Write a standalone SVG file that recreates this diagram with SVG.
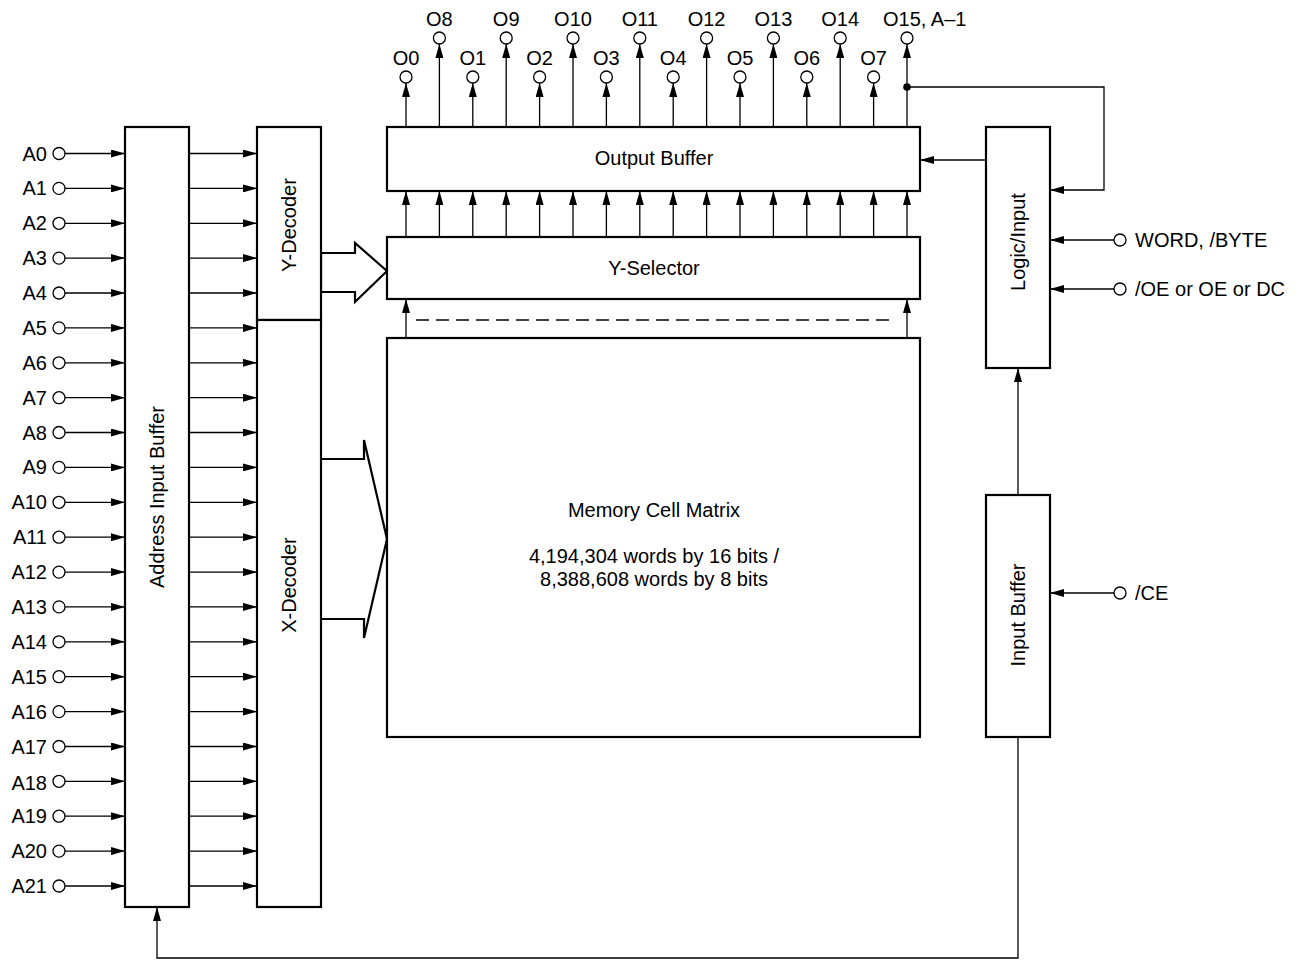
<svg xmlns="http://www.w3.org/2000/svg" width="1305" height="963" viewBox="0 0 1305 963">
<style>
.box{fill:#fff;stroke:#000;stroke-width:2.2}
.ln{fill:none;stroke:#000;stroke-width:1.3}
.ar{fill:none;stroke:#000;stroke-width:1.3;marker-end:url(#ah)}
.pin{fill:#fff;stroke:#000;stroke-width:1.3}
.t{font-family:"Liberation Sans",Arial,sans-serif;font-size:20px;fill:#000}
.m{text-anchor:middle}
.e{text-anchor:end}
.big{fill:#fff;stroke:#000;stroke-width:2.2;stroke-linejoin:miter}
</style>
<defs>
<marker id="ah" viewBox="0 0 14 8" refX="14" refY="4" markerWidth="14" markerHeight="8" orient="auto" markerUnits="userSpaceOnUse">
<path d="M0,0 L14,4 L0,8 z" fill="#000"/>
</marker>
</defs>
<rect width="1305" height="963" fill="#fff"/>

<g id="connectors">
<g id="addr-lines">
<line class="ar" x1="65" y1="153.5" x2="125" y2="153.5"/><line class="ar" x1="189" y1="153.5" x2="257" y2="153.5"/>
<line class="ar" x1="65" y1="188.4" x2="125" y2="188.4"/><line class="ar" x1="189" y1="188.4" x2="257" y2="188.4"/>
<line class="ar" x1="65" y1="223.3" x2="125" y2="223.3"/><line class="ar" x1="189" y1="223.3" x2="257" y2="223.3"/>
<line class="ar" x1="65" y1="258.1" x2="125" y2="258.1"/><line class="ar" x1="189" y1="258.1" x2="257" y2="258.1"/>
<line class="ar" x1="65" y1="293" x2="125" y2="293"/><line class="ar" x1="189" y1="293" x2="257" y2="293"/>
<line class="ar" x1="65" y1="327.9" x2="125" y2="327.9"/><line class="ar" x1="189" y1="327.9" x2="257" y2="327.9"/>
<line class="ar" x1="65" y1="362.8" x2="125" y2="362.8"/><line class="ar" x1="189" y1="362.8" x2="257" y2="362.8"/>
<line class="ar" x1="65" y1="397.7" x2="125" y2="397.7"/><line class="ar" x1="189" y1="397.7" x2="257" y2="397.7"/>
<line class="ar" x1="65" y1="432.5" x2="125" y2="432.5"/><line class="ar" x1="189" y1="432.5" x2="257" y2="432.5"/>
<line class="ar" x1="65" y1="467.4" x2="125" y2="467.4"/><line class="ar" x1="189" y1="467.4" x2="257" y2="467.4"/>
<line class="ar" x1="65" y1="502.3" x2="125" y2="502.3"/><line class="ar" x1="189" y1="502.3" x2="257" y2="502.3"/>
<line class="ar" x1="65" y1="537.2" x2="125" y2="537.2"/><line class="ar" x1="189" y1="537.2" x2="257" y2="537.2"/>
<line class="ar" x1="65" y1="572.1" x2="125" y2="572.1"/><line class="ar" x1="189" y1="572.1" x2="257" y2="572.1"/>
<line class="ar" x1="65" y1="606.9" x2="125" y2="606.9"/><line class="ar" x1="189" y1="606.9" x2="257" y2="606.9"/>
<line class="ar" x1="65" y1="641.8" x2="125" y2="641.8"/><line class="ar" x1="189" y1="641.8" x2="257" y2="641.8"/>
<line class="ar" x1="65" y1="676.7" x2="125" y2="676.7"/><line class="ar" x1="189" y1="676.7" x2="257" y2="676.7"/>
<line class="ar" x1="65" y1="711.6" x2="125" y2="711.6"/><line class="ar" x1="189" y1="711.6" x2="257" y2="711.6"/>
<line class="ar" x1="65" y1="746.5" x2="125" y2="746.5"/><line class="ar" x1="189" y1="746.5" x2="257" y2="746.5"/>
<line class="ar" x1="65" y1="781.3" x2="125" y2="781.3"/><line class="ar" x1="189" y1="781.3" x2="257" y2="781.3"/>
<line class="ar" x1="65" y1="816.2" x2="125" y2="816.2"/><line class="ar" x1="189" y1="816.2" x2="257" y2="816.2"/>
<line class="ar" x1="65" y1="851.1" x2="125" y2="851.1"/><line class="ar" x1="189" y1="851.1" x2="257" y2="851.1"/>
<line class="ar" x1="65" y1="886" x2="125" y2="886"/><line class="ar" x1="189" y1="886" x2="257" y2="886"/>
</g>
<g id="out-lines">
<line class="ar" x1="406" y1="127" x2="406" y2="83"/>
<line class="ar" x1="439.4" y1="127" x2="439.4" y2="44"/>
<line class="ar" x1="472.8" y1="127" x2="472.8" y2="83"/>
<line class="ar" x1="506.2" y1="127" x2="506.2" y2="44"/>
<line class="ar" x1="539.6" y1="127" x2="539.6" y2="83"/>
<line class="ar" x1="573" y1="127" x2="573" y2="44"/>
<line class="ar" x1="606.4" y1="127" x2="606.4" y2="83"/>
<line class="ar" x1="639.8" y1="127" x2="639.8" y2="44"/>
<line class="ar" x1="673.2" y1="127" x2="673.2" y2="83"/>
<line class="ar" x1="706.6" y1="127" x2="706.6" y2="44"/>
<line class="ar" x1="740" y1="127" x2="740" y2="83"/>
<line class="ar" x1="773.4" y1="127" x2="773.4" y2="44"/>
<line class="ar" x1="806.8" y1="127" x2="806.8" y2="83"/>
<line class="ar" x1="840.2" y1="127" x2="840.2" y2="44"/>
<line class="ar" x1="873.6" y1="127" x2="873.6" y2="83"/>
<line class="ar" x1="907" y1="127" x2="907" y2="44"/>
</g>
<g id="ysel-lines">
<line class="ar" x1="406" y1="237" x2="406" y2="191"/>
<line class="ar" x1="439.4" y1="237" x2="439.4" y2="191"/>
<line class="ar" x1="472.8" y1="237" x2="472.8" y2="191"/>
<line class="ar" x1="506.2" y1="237" x2="506.2" y2="191"/>
<line class="ar" x1="539.6" y1="237" x2="539.6" y2="191"/>
<line class="ar" x1="573" y1="237" x2="573" y2="191"/>
<line class="ar" x1="606.4" y1="237" x2="606.4" y2="191"/>
<line class="ar" x1="639.8" y1="237" x2="639.8" y2="191"/>
<line class="ar" x1="673.2" y1="237" x2="673.2" y2="191"/>
<line class="ar" x1="706.6" y1="237" x2="706.6" y2="191"/>
<line class="ar" x1="740" y1="237" x2="740" y2="191"/>
<line class="ar" x1="773.4" y1="237" x2="773.4" y2="191"/>
<line class="ar" x1="806.8" y1="237" x2="806.8" y2="191"/>
<line class="ar" x1="840.2" y1="237" x2="840.2" y2="191"/>
<line class="ar" x1="873.6" y1="237" x2="873.6" y2="191"/>
<line class="ar" x1="907" y1="237" x2="907" y2="191"/>
</g>
<line class="ar" x1="406" y1="338" x2="406" y2="299"/>
<line class="ar" x1="907" y1="338" x2="907" y2="299"/>
<line class="ln" x1="416" y1="320" x2="896" y2="320" stroke-dasharray="13 7"/>
<polygon class="big" points="321,253 355,253 355,243 387,271 355,302 355,292 321,292"/>
<polyline class="big" points="321,459 364,459 364,440 387,539 364,638 364,619 321,619"/>
<circle cx="907" cy="87" r="3.8" fill="#000"/>
<polyline class="ar" points="907,87 1104,87 1104,190 1050,190"/>
<line class="ar" x1="986" y1="160" x2="920" y2="160"/>
<line class="ar" x1="1114" y1="240" x2="1050" y2="240"/>
<line class="ar" x1="1114" y1="289" x2="1050" y2="289"/>
<line class="ar" x1="1114" y1="593" x2="1050" y2="593"/>
<line class="ar" x1="1018" y1="495" x2="1018" y2="368"/>
<polyline class="ar" points="1018,737 1018,958 157,958 157,907"/>
</g>

<g id="address-pins">
<circle class="pin" cx="59" cy="153.5" r="6"/><text class="t e" x="47" y="160.5">A0</text>
<circle class="pin" cx="59" cy="188.4" r="6"/><text class="t e" x="47" y="195.4">A1</text>
<circle class="pin" cx="59" cy="223.3" r="6"/><text class="t e" x="47" y="230.3">A2</text>
<circle class="pin" cx="59" cy="258.1" r="6"/><text class="t e" x="47" y="265.1">A3</text>
<circle class="pin" cx="59" cy="293" r="6"/><text class="t e" x="47" y="300">A4</text>
<circle class="pin" cx="59" cy="327.9" r="6"/><text class="t e" x="47" y="334.9">A5</text>
<circle class="pin" cx="59" cy="362.8" r="6"/><text class="t e" x="47" y="369.8">A6</text>
<circle class="pin" cx="59" cy="397.7" r="6"/><text class="t e" x="47" y="404.7">A7</text>
<circle class="pin" cx="59" cy="432.5" r="6"/><text class="t e" x="47" y="439.5">A8</text>
<circle class="pin" cx="59" cy="467.4" r="6"/><text class="t e" x="47" y="474.4">A9</text>
<circle class="pin" cx="59" cy="502.3" r="6"/><text class="t e" x="47" y="509.3">A10</text>
<circle class="pin" cx="59" cy="537.2" r="6"/><text class="t e" x="47" y="544.2">A11</text>
<circle class="pin" cx="59" cy="572.1" r="6"/><text class="t e" x="47" y="579.1">A12</text>
<circle class="pin" cx="59" cy="606.9" r="6"/><text class="t e" x="47" y="613.9">A13</text>
<circle class="pin" cx="59" cy="641.8" r="6"/><text class="t e" x="47" y="648.8">A14</text>
<circle class="pin" cx="59" cy="676.7" r="6"/><text class="t e" x="47" y="683.7">A15</text>
<circle class="pin" cx="59" cy="711.6" r="6"/><text class="t e" x="47" y="718.6">A16</text>
<circle class="pin" cx="59" cy="746.5" r="6"/><text class="t e" x="47" y="753.5">A17</text>
<circle class="pin" cx="59" cy="781.3" r="6"/><text class="t e" x="47" y="790">A18</text>
<circle class="pin" cx="59" cy="816.2" r="6"/><text class="t e" x="47" y="823.2">A19</text>
<circle class="pin" cx="59" cy="851.1" r="6"/><text class="t e" x="47" y="858.1">A20</text>
<circle class="pin" cx="59" cy="886" r="6"/><text class="t e" x="47" y="893">A21</text>
</g>

<g id="output-pins">
<circle class="pin" cx="406" cy="77" r="6"/><text class="t m" x="406" y="65">O0</text>
<circle class="pin" cx="439.4" cy="38" r="6"/><text class="t m" x="439.4" y="26">O8</text>
<circle class="pin" cx="472.8" cy="77" r="6"/><text class="t m" x="472.8" y="65">O1</text>
<circle class="pin" cx="506.2" cy="38" r="6"/><text class="t m" x="506.2" y="26">O9</text>
<circle class="pin" cx="539.6" cy="77" r="6"/><text class="t m" x="539.6" y="65">O2</text>
<circle class="pin" cx="573" cy="38" r="6"/><text class="t m" x="573" y="26">O10</text>
<circle class="pin" cx="606.4" cy="77" r="6"/><text class="t m" x="606.4" y="65">O3</text>
<circle class="pin" cx="639.8" cy="38" r="6"/><text class="t m" x="639.8" y="26">O11</text>
<circle class="pin" cx="673.2" cy="77" r="6"/><text class="t m" x="673.2" y="65">O4</text>
<circle class="pin" cx="706.6" cy="38" r="6"/><text class="t m" x="706.6" y="26">O12</text>
<circle class="pin" cx="740" cy="77" r="6"/><text class="t m" x="740" y="65">O5</text>
<circle class="pin" cx="773.4" cy="38" r="6"/><text class="t m" x="773.4" y="26">O13</text>
<circle class="pin" cx="806.8" cy="77" r="6"/><text class="t m" x="806.8" y="65">O6</text>
<circle class="pin" cx="840.2" cy="38" r="6"/><text class="t m" x="840.2" y="26">O14</text>
<circle class="pin" cx="873.6" cy="77" r="6"/><text class="t m" x="873.6" y="65">O7</text>
<circle class="pin" cx="907" cy="38" r="6"/><text class="t" x="883" y="26">O15, A–1</text>
</g>

<g id="control-pins">
<circle class="pin" cx="1120" cy="240" r="6"/><text class="t" x="1135" y="247">WORD, /BYTE</text>
<circle class="pin" cx="1120" cy="289" r="6"/><text class="t" x="1135" y="296">/OE or OE or DC</text>
<circle class="pin" cx="1120" cy="593" r="6"/><text class="t" x="1135" y="600">/CE</text>
</g>

<g id="address-input-buffer">
<rect class="box" x="125" y="127" width="64" height="780"/>
<text class="t m" x="157" y="497" dominant-baseline="central" transform="rotate(-90 157 497)">Address Input Buffer</text>
</g>
<g id="y-decoder">
<rect class="box" x="257" y="127" width="64" height="193"/>
<text class="t m" x="289" y="225" dominant-baseline="central" transform="rotate(-90 289 225)">Y-Decoder</text>
</g>
<g id="x-decoder">
<rect class="box" x="257" y="320" width="64" height="587"/>
<text class="t m" x="289" y="585" dominant-baseline="central" transform="rotate(-90 289 585)">X-Decoder</text>
</g>
<g id="output-buffer">
<rect class="box" x="387" y="127" width="533" height="64"/>
<text class="t m" x="654" y="165">Output Buffer</text>
</g>
<g id="y-selector">
<rect class="box" x="387" y="237" width="533" height="62"/>
<text class="t m" x="654" y="275">Y-Selector</text>
</g>
<g id="memory-cell-matrix">
<rect class="box" x="387" y="338" width="533" height="399"/>
<text class="t m" x="654" y="517">Memory Cell Matrix</text>
<text class="t m" x="654" y="563">4,194,304 words by 16 bits /</text>
<text class="t m" x="654" y="586">8,388,608 words by 8 bits</text>
</g>
<g id="logic-input">
<rect class="box" x="986" y="127" width="64" height="241"/>
<text class="t m" x="1018" y="242" dominant-baseline="central" transform="rotate(-90 1018 242)">Logic/Input</text>
</g>
<g id="input-buffer">
<rect class="box" x="986" y="495" width="64" height="242"/>
<text class="t m" x="1018" y="615" dominant-baseline="central" transform="rotate(-90 1018 615)">Input Buffer</text>
</g>
</svg>
